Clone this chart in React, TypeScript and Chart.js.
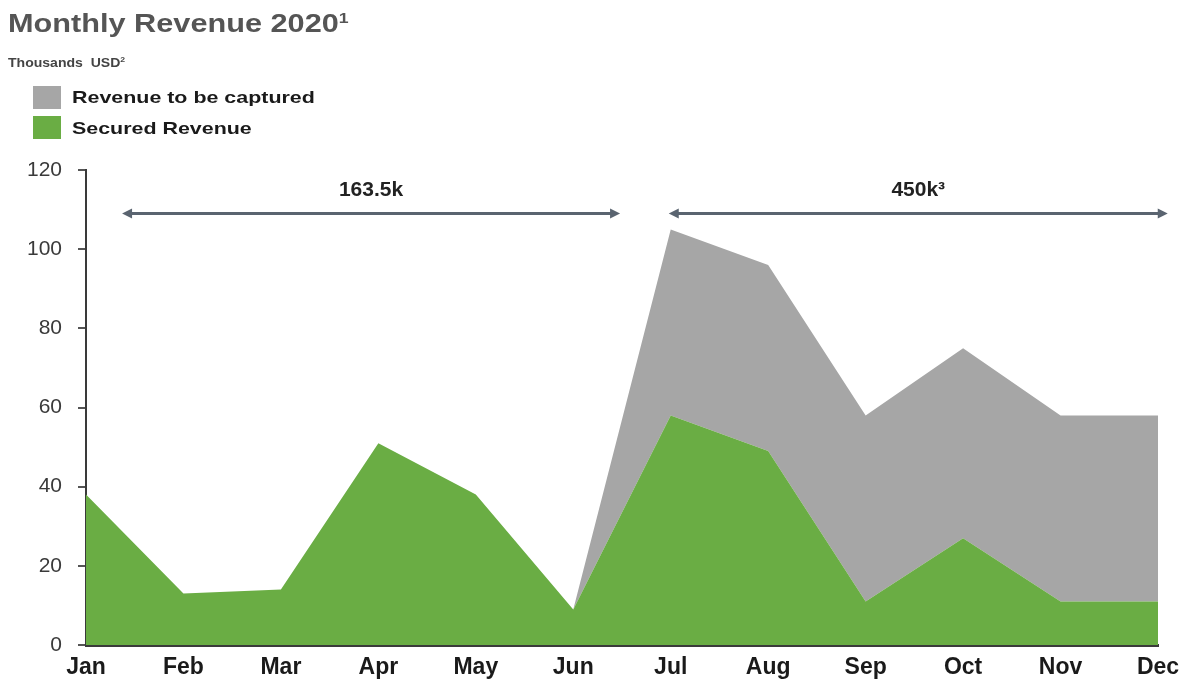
import React, { useEffect, useRef } from "react";
import { Chart, registerables } from "chart.js";

Chart.register(...registerables);

const months = ["Jan", "Feb", "Mar", "Apr", "May", "Jun", "Jul", "Aug", "Sep", "Oct", "Nov", "Dec"];
const securedRevenue = [38, 13, 14, 51, 38, 9, 58, 49, 11, 27, 11, 11];
const revenueToBeCaptured = [0, 0, 0, 0, 0, 0, 47, 47, 47, 48, 47, 47];
const yMin = 0;
const yMax = 120;
const yStep = 20;

const periodLabels = ["163.5k", "450k\u00b3"];
const periodStarts = [0.37, 5.98];
const periodEnds = [5.48, 11.1];
const periodArrowLevel = 109;
const periodLabelLevel = 115;

const FONT = '"Liberation Sans", Arial, Helvetica, sans-serif';
const GREEN = "#6aad44";
const GRAY = "#a6a6a6";
const ARROW = "#5a6470";

const arrowPlugin = {
  id: "periodArrows",
  afterDraw(chart: any) {
    const { ctx, scales } = chart;
    const xs = scales.x;
    const ys = scales.y;
    const y = ys.getPixelForValue(periodArrowLevel);
    const ly = ys.getPixelForValue(periodLabelLevel);
    ctx.save();
    periodLabels.forEach((label, i) => {
      const x1 = xs.getPixelForValue(periodStarts[i]);
      const x2 = xs.getPixelForValue(periodEnds[i]);
      const head = 10;
      const hw = 5;
      ctx.strokeStyle = ARROW;
      ctx.fillStyle = ARROW;
      ctx.lineWidth = 3;
      ctx.beginPath();
      ctx.moveTo(x1 + head - 1, y);
      ctx.lineTo(x2 - head + 1, y);
      ctx.stroke();
      ctx.beginPath();
      ctx.moveTo(x1, y);
      ctx.lineTo(x1 + head, y - hw);
      ctx.lineTo(x1 + head, y + hw);
      ctx.closePath();
      ctx.fill();
      ctx.beginPath();
      ctx.moveTo(x2, y);
      ctx.lineTo(x2 - head, y - hw);
      ctx.lineTo(x2 - head, y + hw);
      ctx.closePath();
      ctx.fill();
      ctx.fillStyle = "#222222";
      ctx.font = `bold 21px ${FONT}`;
      ctx.textAlign = "center";
      ctx.textBaseline = "middle";
      ctx.fillText(label, (x1 + x2) / 2, ly);
    });
    ctx.restore();
  },
};

export default function App() {
  const canvasRef = useRef<HTMLCanvasElement | null>(null);

  useEffect(() => {
    if (!canvasRef.current) return;
    const chart = new Chart(canvasRef.current, {
      type: "line",
      data: {
        labels: months,
        datasets: [
          {
            label: "Secured Revenue",
            data: securedRevenue,
            backgroundColor: GREEN,
            borderColor: GREEN,
            borderWidth: 0,
            pointRadius: 0,
            fill: "origin",
            tension: 0,
            stack: "rev",
          },
          {
            label: "Revenue to be captured",
            data: revenueToBeCaptured,
            backgroundColor: GRAY,
            borderColor: GRAY,
            borderWidth: 0,
            pointRadius: 0,
            fill: "-1",
            tension: 0,
            stack: "rev",
          },
        ],
      },
      options: {
        responsive: false,
        animation: false,
        maintainAspectRatio: false,
        layout: { padding: { top: 170, right: 32, left: 0, bottom: 0 } },
        plugins: {
          legend: { display: false },
          tooltip: { enabled: false },
          title: { display: false },
        },
        scales: {
          x: {
            type: "category",
            offset: false,
            z: 1,
            grid: { display: true, drawOnChartArea: false, drawTicks: false },
            border: { display: true, color: "#3a3a3a", width: 3 },
            ticks: {
              color: "#1a1a1a",
              font: { family: FONT, size: 23, weight: "bold" },
              padding: 9,
              maxRotation: 0,
              autoSkip: false,
            },
            afterFit(scale: any) {
              scale.height = 38;
            },
          },
          y: {
            stacked: true,
            min: yMin,
            max: yMax,
            z: 1,
            grid: { display: true, drawOnChartArea: false, drawTicks: true, tickLength: 8, color: "#555555", lineWidth: 2 },
            border: { display: true, color: "#3a3a3a", width: 2 },
            ticks: {
              stepSize: yStep,
              color: "#3a3a3a",
              font: { family: FONT, size: 21 },
              padding: 16,
            },
            afterFit(scale: any) {
              scale.width = 86;
            },
          },
        },
      },
      plugins: [arrowPlugin],
    });
    return () => chart.destroy();
  }, []);

  const stretch: React.CSSProperties = {
    position: "absolute",
    transformOrigin: "left center",
    whiteSpace: "nowrap",
    fontFamily: FONT,
    fontWeight: "bold",
  };

  return (
    <div style={{ position: "fixed", left: 0, top: 0, width: 1190, height: 683, background: "#ffffff", overflow: "hidden" }}>
      <canvas ref={canvasRef} width={1190} height={683} style={{ position: "absolute", left: 0, top: 0, width: 1190, height: 683 }} />
      <div style={{ ...stretch, left: 8, top: 8, fontSize: 26, color: "#555555", transform: "scaleX(1.18)" }}>
        Monthly Revenue 2020<span style={{ fontSize: 15, verticalAlign: "9px" }}>1</span>
      </div>
      <div style={{ ...stretch, left: 8, top: 55, fontSize: 13, color: "#444444", transform: "scaleX(1.08)" }}>
        Thousands&nbsp; USD<span style={{ fontSize: 8, verticalAlign: "5px" }}>2</span>
      </div>
      <div style={{ position: "absolute", left: 33, top: 86, width: 28, height: 23, background: GRAY }} />
      <div style={{ position: "absolute", left: 33, top: 116, width: 28, height: 23, background: GREEN }} />
      <div style={{ ...stretch, left: 72, top: 88, fontSize: 17, color: "#1a1a1a", transform: "scaleX(1.26)" }}>
        Revenue to be captured
      </div>
      <div style={{ ...stretch, left: 72, top: 119, fontSize: 17, color: "#1a1a1a", transform: "scaleX(1.26)" }}>
        Secured Revenue
      </div>
    </div>
  );
}
